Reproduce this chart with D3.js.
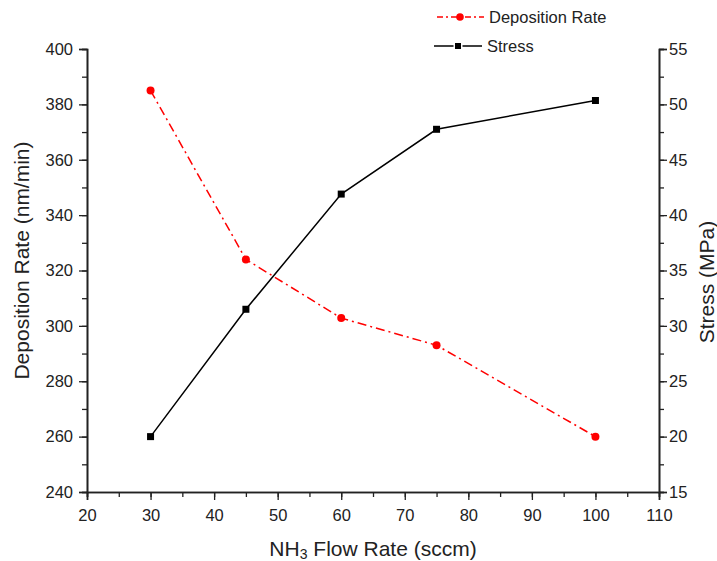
<!DOCTYPE html>
<html><head><meta charset="utf-8">
<script src="https://cdn.jsdelivr.net/npm/d3@7"></script>
<style>body{margin:0;background:#fff}svg{display:block}text{font-family:"Liberation Sans",Arial,sans-serif;fill:#222}</style>
</head><body><svg id="c" width="717" height="561"></svg>
<script>
const flow = [30, 45, 60, 75, 100];
const depRate = [385, 324, 302.8, 293, 260];
const stress = [20, 31.5, 41.9, 47.75, 50.35];
const xTicks = [20,30,40,50,60,70,80,90,100,110];
const yLeftTicks = [240,260,280,300,320,340,360,380,400];
const yRightTicks = [15,20,25,30,35,40,45,50,55];

const svg = d3.select("#c");
const L=87, R=659, T=49, B=492;
const x = d3.scaleLinear().domain([20,110]).range([L,R]);
const yL = d3.scaleLinear().domain([240,400]).range([B,T]);
const yR = d3.scaleLinear().domain([15,55]).range([B,T]);

function styleAxis(g){
  g.selectAll("path").attr("stroke","#222").attr("stroke-width",1.6);
  g.selectAll("line").attr("stroke","#222").attr("stroke-width",1.3);
  g.selectAll("text").style("font-size","16.5px").attr("fill","#222");
}
// minor ticks
const gx = svg.append("g").attr("transform",`translate(0,${B})`);
gx.call(d3.axisBottom(x).tickValues(d3.range(20,111,5)).tickSize(5).tickFormat("")).call(styleAxis);
gx.append("g").call(d3.axisBottom(x).tickValues(xTicks).tickSize(8).tickPadding(9).tickFormat(d3.format("d"))).call(styleAxis);

const gl = svg.append("g").attr("transform",`translate(${L},0)`);
gl.call(d3.axisLeft(yL).tickValues(d3.range(240,401,10)).tickSize(5).tickFormat("")).call(styleAxis);
gl.append("g").call(d3.axisLeft(yL).tickValues(yLeftTicks).tickSize(8).tickPadding(6).tickFormat(d3.format("d"))).call(styleAxis);

const gr = svg.append("g").attr("transform",`translate(${R},0)`);
gr.call(d3.axisRight(yR).tickValues(d3.range(15,55.1,2.5)).tickSize(5).tickFormat("")).call(styleAxis);
gr.append("g").call(d3.axisRight(yR).tickValues(yRightTicks).tickSize(8).tickPadding(2).tickFormat(d3.format("d"))).call(styleAxis);

// lines
const lineD = d3.line().x((d,i)=>x(flow[i])).y(d=>yL(d));
svg.append("path").attr("d",lineD(depRate)).attr("fill","none").attr("stroke","#f00").attr("stroke-width",1.5).attr("stroke-dasharray","9,4,2,4");
svg.selectAll(".dp").data(depRate).join("circle").attr("cx",(d,i)=>x(flow[i])).attr("cy",d=>yL(d)).attr("r",4).attr("fill","#f00");

const lineS = d3.line().x((d,i)=>x(flow[i])).y(d=>yR(d));
svg.append("path").attr("d",lineS(stress)).attr("fill","none").attr("stroke","#000").attr("stroke-width",1.5);
svg.selectAll(".sp").data(stress).join("rect").attr("x",(d,i)=>x(flow[i])-3.5).attr("y",d=>yR(d)-3.5).attr("width",7).attr("height",7).attr("fill","#000");

// axis titles
svg.append("text").attr("transform",`translate(29,${(T+B)/2-10}) rotate(-90)`).attr("text-anchor","middle").style("font-size","21px").text("Deposition Rate (nm/min)");
svg.append("text").attr("transform",`translate(714,282) rotate(-90)`).attr("text-anchor","middle").style("font-size","21px").text("Stress (MPa)");
const xt = svg.append("text").attr("x",(L+R)/2).attr("y",556).attr("text-anchor","middle").style("font-size","21px");
xt.append("tspan").text("NH");
xt.append("tspan").attr("dy",3).style("font-size","14px").text("3");
xt.append("tspan").attr("dy",-3).text(" Flow Rate (sccm)");

// legend
const lg = svg.append("g");
lg.append("line").attr("x1",437).attr("x2",484).attr("y1",17).attr("y2",17).attr("stroke","#f00").attr("stroke-width",1.5).attr("stroke-dasharray","6,3,2,3");
lg.append("circle").attr("cx",460).attr("cy",17).attr("r",3.8).attr("fill","#f00");
lg.append("text").attr("x",489).attr("y",23).style("font-size","16.5px").text("Deposition Rate");
lg.append("line").attr("x1",434).attr("x2",482).attr("y1",46).attr("y2",46).attr("stroke","#000").attr("stroke-width",1.5);
lg.append("rect").attr("x",453.5).attr("y",41.5).attr("width",9).attr("height",9).attr("fill","#fff");
lg.append("rect").attr("x",455).attr("y",43).attr("width",6).attr("height",6).attr("fill","#000");
lg.append("text").attr("x",487).attr("y",52).style("font-size","16.5px").text("Stress");
</script></body></html>
